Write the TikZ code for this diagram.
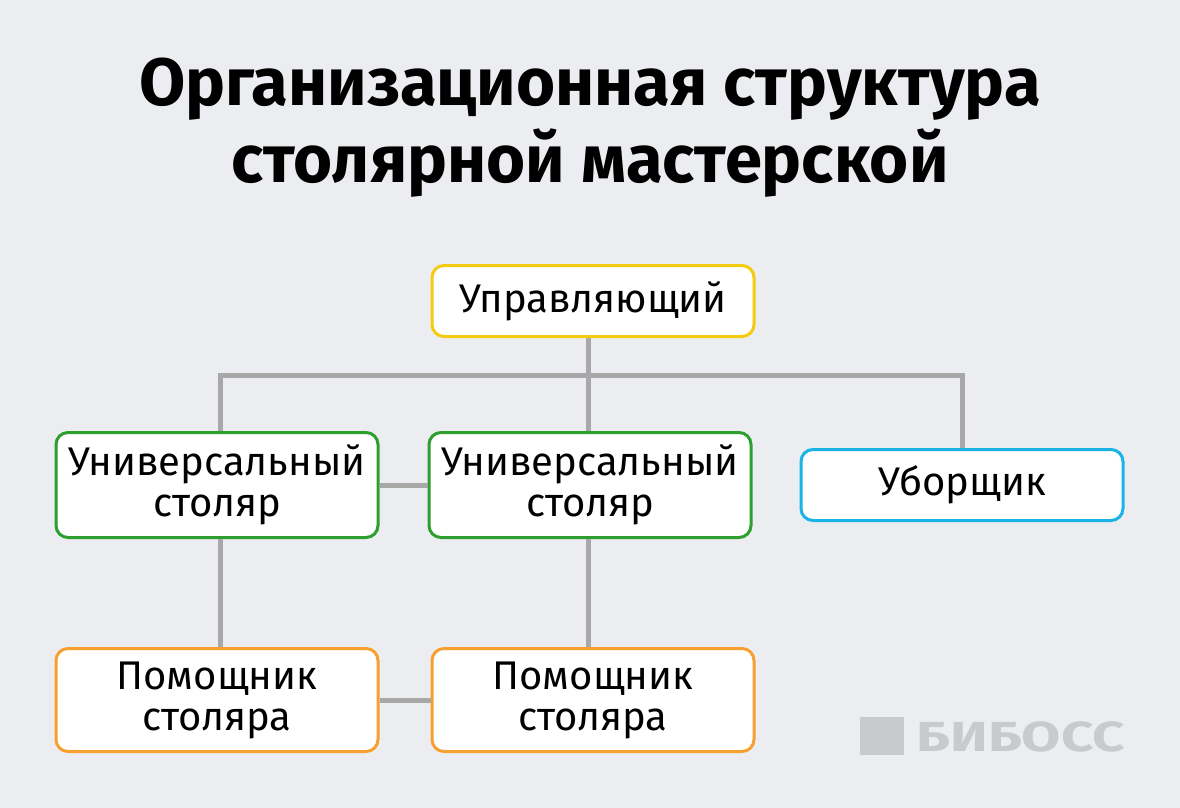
\documentclass[tikz,border=0pt]{standalone}
\usepackage{fontspec}
\setmainfont{Fira Sans}
\usetikzlibrary{positioning}
\definecolor{bgcol}{HTML}{ECEDF1}
\definecolor{linecol}{HTML}{A8A8A8}
\definecolor{headcol}{HTML}{F5CB10}
\definecolor{joincol}{HTML}{2E9E2E}
\definecolor{helpcol}{HTML}{F7A030}
\definecolor{cleancol}{HTML}{1AB3E6}
\definecolor{logocol}{HTML}{C9CACE}
\tikzset{
  unitbox/.style={draw, line width=3pt, rounded corners=12pt, fill=white,
    minimum width=322pt, align=center, font=\fontsize{40}{41}\selectfont},
  link/.style={draw=linecol, line width=5pt}
}
\begin{document}
\begin{tikzpicture}[x=1pt, y=-1pt]
\useasboundingbox[fill=bgcol] (0,0) rectangle (1180,808);

\node[font=\fontsize{67}{77}\selectfont\bfseries, align=center] (title) at (590,128)
  {Организационная структура\\столярной мастерской};

% Boxes
\node[unitbox, draw=headcol, minimum height=71pt] (head) at (593,301) {Управляющий};
\node[unitbox, draw=joincol, minimum height=105pt] (joinA) at (217,485) {Универсальный\\столяр};
\node[unitbox, draw=joincol, minimum height=105pt] (joinB) at (590,485) {Универсальный\\столяр};
\node[unitbox, draw=cleancol, minimum height=71pt] (clean) at (962,485) {Уборщик};
\node[unitbox, draw=helpcol, minimum height=103pt] (helpA) at (217,700) {Помощник\\столяра};
\node[unitbox, draw=helpcol, minimum height=103pt] (helpB) at (593,700) {Помощник\\столяра};

% Links
\coordinate (bus) at (588,375);
\draw[link] (head.south -| bus) -- (joinB.north -| bus);
\draw[link] (joinA.north -| 220,0) -- (220,375) -- (962,375) -- (clean.north);
\draw[link] (joinA.east) -- (joinB.west);
\draw[link] (helpA.east) -- (helpB.west);
\draw[link] (joinA.south -| 220,0) -- (helpA.north -| 220,0);
\draw[link] (joinB.south -| bus) -- (helpB.north -| bus);

% Logo
\fill[logocol] (860,717) rectangle (904,755);
\node[text=logocol, font=\fontsize{42}{42}\selectfont\bfseries, anchor=west, xscale=1.35] (logo) at (912,737) {БИБОСС};
\end{tikzpicture}
\end{document}
